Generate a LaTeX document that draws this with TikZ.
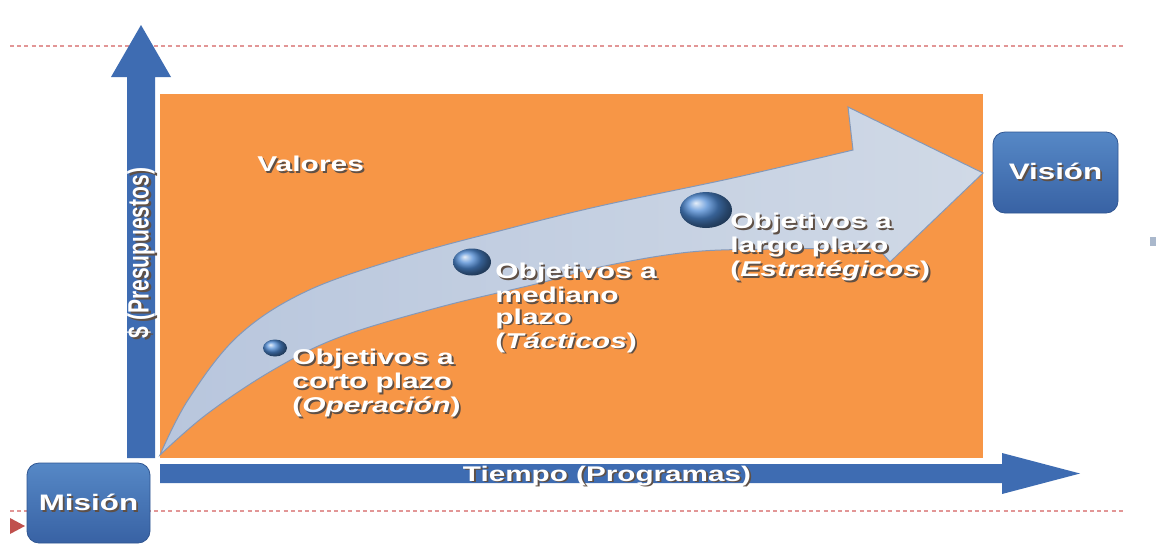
\documentclass[tikz,border=0pt]{standalone}
\usepackage{graphicx}
\usepackage{fontspec}
\setmainfont{Liberation Sans}[FakeStretch=1.4]
\newfontfamily\plainsans{Liberation Sans}
\usetikzlibrary{shapes.geometric}
\definecolor{orangebg}{RGB}{247,150,70}
\definecolor{axisblue}{RGB}{62,108,178}
\definecolor{boxtop}{RGB}{86,136,198}
\definecolor{boxbot}{RGB}{56,98,164}
\definecolor{boxedge}{RGB}{48,86,146}
\definecolor{arrowA}{RGB}{184,198,221}
\definecolor{arrowB}{RGB}{208,217,230}
\definecolor{arrowedge}{RGB}{132,152,184}
\definecolor{sphereblue}{RGB}{78,138,212}
\definecolor{dashred}{RGB}{226,150,150}
\definecolor{trired}{RGB}{192,80,77}
\definecolor{shadowc}{RGB}{95,80,70}
\definecolor{markgray}{RGB}{170,184,204}
\newcommand{\shd}[1]{\makebox[0pt][l]{\kern0.9pt\raisebox{-0.9pt}{\color{shadowc}#1}}#1}
\newcommand{\shdr}[1]{\makebox[0pt][l]{\kern-0.9pt\raisebox{-0.9pt}{\color{shadowc}#1}}#1}
\tikzset{
  lbl/.style={inner sep=0pt, text=white, font=\bfseries\fontsize{10.7}{10.75}\selectfont},
  bluebox/.style={rounded corners=6pt, top color=boxtop, bottom color=boxbot, draw=boxedge,
    line width=0.4pt, text=white, font=\bfseries\fontsize{11.2}{13}\selectfont, inner sep=0pt},
  guide/.style={dashred, line width=0.6pt, dash pattern=on 2pt off 1.6pt},
  axis/.style={fill=axisblue},
  sphere/.style={ball color=sphereblue}
}
\begin{document}
\begin{tikzpicture}[x=0.5pt,y=-0.5pt]
\useasboundingbox (0,0) rectangle (1159,547);
\fill[white] (0,0) rectangle (1159,547);

% guide lines
\coordinate (g1a) at (10,46);  \coordinate (g1b) at (1125,46);
\coordinate (g2a) at (10,511); \coordinate (g2b) at (1125,511);
\draw[guide] (g1a) -- (g1b);
\draw[guide] (g2a) -- (g2b);
\fill[trired] (10,518) -- (25,526) -- (10,534) -- cycle;
\fill[markgray] (1150,237) rectangle (1156,246);

% orange field
\fill[orangebg] (160,94) rectangle (983,458);

% curved arrow
\path[draw=arrowedge, line width=0.5pt, left color=arrowA, right color=arrowB]
  plot[smooth, tension=0.6] coordinates {(160,455) (188,400) (238,336) (307,291) (407,256) (507,229) (600,206) (733,178) (853,150)}
  -- (848,107) -- (983,173) -- (890,262) -- (878,248)
  -- plot[smooth, tension=0.6] coordinates {(878,248) (780,249) (690,252) (600,267) (540,283) (440,307) (340,337) (273,370) (207,414) (160,455)}
  -- cycle;

% spheres
\shade[sphere] (275,348) ellipse [x radius=12, y radius=8.5];
\shade[sphere] (472,262) ellipse [x radius=19, y radius=13.5];
\shade[sphere] (706,210) ellipse [x radius=26, y radius=18];

% axes
\fill[axis] (127,458) -- (127,77) -- (111,77) -- (141,25) -- (171,77) -- (155,77) -- (155,458) -- cycle;
\fill[axis] (160,464) -- (1002,464) -- (1002,453) -- (1080,473.5) -- (1002,494) -- (1002,483) -- (160,483) -- cycle;

% texts
\node[lbl, anchor=north west] (valores) at (257,156) {\shd{Valores}};
\node[lbl, anchor=north west, align=left] (corto) at (292,349)
  {\shd{Objetivos a}\\\shd{corto plazo}\\\shd{(\textit{Operación})}};
\node[lbl, anchor=north west, align=left] (mediano) at (495,263)
  {\shd{Objetivos a}\\\shd{mediano}\\\shd{plazo}\\\shd{(\textit{Tácticos})}};
\node[lbl, anchor=north west, align=left] (largo) at (730,213)
  {\shd{Objetivos a}\\\shd{largo plazo}\\\shd{(\textit{Estratégicos})}};
\node[lbl, anchor=base, font=\bfseries\fontsize{10.6}{12}\selectfont] (tiempo) at (607,481) {\shd{Tiempo (Programas)}};
\node[inner sep=0pt, text=white, rotate=90, font=\plainsans\bfseries\fontsize{10.5}{12}\selectfont] (ylab) at (142,253)
  {\scalebox{1}[1.4]{\shdr{\$ (Presupuestos)}}};

% boxes
\node[bluebox, minimum width=61.5pt, minimum height=40pt] (mision) at (88.5,503) {\shd{Misión}};
\node[bluebox, minimum width=62.5pt, minimum height=40.5pt] (vision) at (1055.5,172.5) {\shd{Visión}};
\end{tikzpicture}
\end{document}
